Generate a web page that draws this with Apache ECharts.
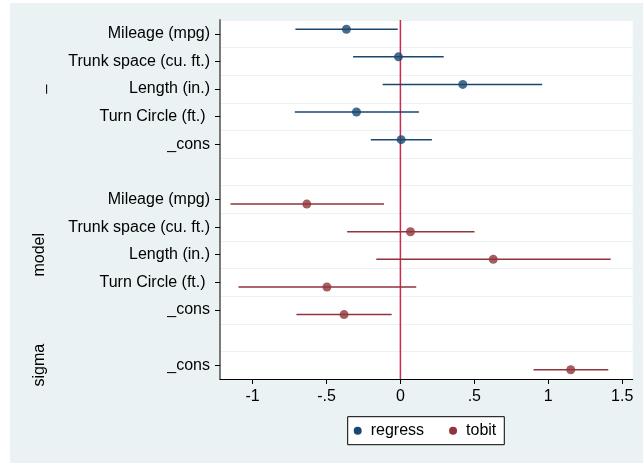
<!DOCTYPE html>
<html>
<head>
<meta charset="utf-8">
<script src="https://cdn.jsdelivr.net/npm/echarts@6/dist/echarts.min.js"></script>
<style>
  html, body { margin: 0; padding: 0; background: #ffffff; }
  #chart { width: 643px; height: 463px; }
</style>
</head>
<body>
<div id="chart"></div>
<script>
// Coefficient names shown on the y axis
const coefNames = ['Mileage (mpg)', 'Trunk space (cu. ft.)', 'Length (in.)', 'Turn Circle (ft.) ', '_cons'];

// OLS (regress) estimates with 95% confidence bounds
const regressEst = [-0.365, -0.013, 0.422, -0.297, 0.005];
const regressLo  = [-0.710, -0.320, -0.120, -0.714, -0.200];
const regressHi  = [-0.018, 0.293, 0.959, 0.125, 0.213];

// Tobit model equation
const tobitEst = [-0.633, 0.068, 0.628, -0.497, -0.381];
const tobitLo  = [-1.149, -0.360, -0.163, -1.095, -0.703];
const tobitHi  = [-0.111, 0.501, 1.422, 0.107, -0.059];

// Tobit sigma equation (_cons only)
const sigmaEst = [1.152];
const sigmaLo  = [0.900];
const sigmaHi  = [1.406];

// Equation group labels drawn to the left of the axis
const eqNames = ['_', 'model', 'sigma'];

// X axis ticks and their labels
const xTickValues = [-1, -0.5, 0, 0.5, 1, 1.5];
const xTickLabels = ['-1', '-.5', '0', '.5', '1', '1.5'];
const refLineX = 0;

const NAVY = '#1a476f';
const MAROON = '#90353b';
const FONT = 'Liberation Sans, Arial, Helvetica, sans-serif';

// Row layout: regress rows, gap, tobit model rows, gap, sigma row
const rows = [];
const regressRows = [], tobitRows = [], sigmaRows = [];
coefNames.forEach(n => { regressRows.push(rows.length); rows.push(n); });
rows.push('');
coefNames.forEach(n => { tobitRows.push(rows.length); rows.push(n); });
rows.push('');
sigmaRows.push(rows.length); rows.push('_cons');
const emptyRows = rows.map((r, i) => r === '' ? i : -1).filter(i => i >= 0);

const OFF = 1 / 6; // vertical offset between the two models

const regressPts = regressEst.map((v, i) => [v, regressRows[i] - OFF]);
const regressCI = regressLo.map((lo, i) => [lo, regressHi[i], regressRows[i] - OFF]);
const tobitPts = tobitEst.map((v, i) => [v, tobitRows[i] + OFF])
  .concat(sigmaEst.map((v, i) => [v, sigmaRows[i] + OFF]));
const tobitCI = tobitLo.map((lo, i) => [lo, tobitHi[i], tobitRows[i] + OFF])
  .concat(sigmaLo.map((lo, i) => [lo, sigmaHi[i], sigmaRows[i] + OFF]));

function ciRender(color) {
  return function (params, api) {
    const a = api.coord([api.value(0), api.value(2)]);
    const b = api.coord([api.value(1), api.value(2)]);
    return {
      type: 'line',
      shape: { x1: a[0], y1: a[1], x2: b[0], y2: b[1] },
      style: { stroke: color, lineWidth: 1.5 }
    };
  };
}

const chart = echarts.init(document.getElementById('chart'), null, { renderer: 'canvas' });

const option = {
  animation: false,
  backgroundColor: '#ffffff',
  textStyle: { fontFamily: FONT },
  graphic: [{
    type: 'rect',
    z: -10,
    silent: true,
    shape: { x: 10, y: 3, width: 633, height: 460 },
    style: { fill: '#eaf2f3' }
  }],
  grid: {
    left: 220, right: 10.3, top: 20, bottom: 84,
    show: true, backgroundColor: '#ffffff', borderWidth: 0
  },
  legend: {
    data: [
      { name: 'regress', icon: 'circle', itemStyle: { color: NAVY } },
      { name: 'tobit', icon: 'circle', itemStyle: { color: MAROON } }
    ],
    left: 347.7, top: 416.7,
    orient: 'horizontal',
    itemWidth: 8, itemHeight: 8, itemGap: 25,
    padding: [6, 8, 6, 6],
    backgroundColor: '#ffffff',
    borderColor: '#000000', borderWidth: 1, borderRadius: 0,
    textStyle: { fontSize: 16, color: '#000', fontFamily: FONT, lineHeight: 16, padding: [0, 0, 0, 4] }
  },
  xAxis: {
    type: 'value',
    min: -1.22, max: 1.571,
    axisLine: { show: true, onZero: false, lineStyle: { color: '#000', width: 1 } },
    axisTick: { show: true, length: 5, customValues: xTickValues, lineStyle: { color: '#000', width: 1 } },
    axisLabel: {
      customValues: xTickValues,
      formatter: v => { const k = xTickValues.findIndex(t => Math.abs(t - v) < 1e-9); return k >= 0 ? xTickLabels[k] : ''; },
      fontSize: 16, color: '#000', margin: 10, fontFamily: FONT
    },
    splitLine: { show: false }
  },
  yAxis: [{
    type: 'category',
    data: rows,
    inverse: true,
    boundaryGap: true,
    axisLine: { show: true, onZero: false, lineStyle: { color: '#7a7a7a', width: 2 } },
    axisTick: {
      show: true, alignWithLabel: true, length: 5,
      interval: (idx) => emptyRows.indexOf(idx) < 0,
      lineStyle: { color: '#000', width: 1 }
    },
    axisLabel: { interval: 0, fontSize: 16, color: '#000', margin: 10, fontFamily: FONT },
    splitLine: { show: true, interval: 0, lineStyle: { color: '#eaf2f3', width: 1.2 } }
  }, {
    type: 'value',
    min: -0.5, max: 12.5,
    inverse: true,
    show: false,
    axisLine: { onZero: false },
    splitLine: { show: false }
  }],
  series: [
    {
      name: 'ref', type: 'line', yAxisIndex: 1, z: 1,
      data: [[refLineX, -0.5], [refLineX, 12.5]],
      symbol: 'none', silent: true,
      lineStyle: { color: '#d0284c', width: 1.5 }
    },
    {
      name: 'regress', type: 'custom', yAxisIndex: 1, z: 2,
      renderItem: ciRender(NAVY),
      encode: { x: [0, 1], y: 2 },
      data: regressCI
    },
    {
      name: 'tobit', type: 'custom', yAxisIndex: 1, z: 2,
      renderItem: ciRender(MAROON),
      encode: { x: [0, 1], y: 2 },
      data: tobitCI
    },
    {
      name: 'regress', type: 'scatter', yAxisIndex: 1, z: 3,
      symbol: 'circle', symbolSize: 9,
      itemStyle: { color: NAVY },
      data: regressPts
    },
    {
      name: 'tobit', type: 'scatter', yAxisIndex: 1, z: 3,
      symbol: 'circle', symbolSize: 9,
      itemStyle: { color: MAROON },
      data: tobitPts
    }
  ]
};

chart.setOption(option);

// Equation group labels, placed at the middle row of each group
const groupCenters = [
  (regressRows[0] + regressRows[regressRows.length - 1]) / 2,
  (tobitRows[0] + tobitRows[tobitRows.length - 1]) / 2,
  sigmaRows[0]
];
const eqGraphics = eqNames.map((name, i) => {
  const y = chart.convertToPixel({ yAxisIndex: 1 }, groupCenters[i]);
  return {
    type: 'text',
    x: 40, y: y,
    rotation: Math.PI / 2,
    silent: true,
    style: {
      text: name, fontSize: 16, fontFamily: FONT, fill: '#000',
      align: 'center', verticalAlign: 'middle'
    }
  };
});
chart.setOption({ graphic: option.graphic.concat(eqGraphics) });
</script>
</body>
</html>
